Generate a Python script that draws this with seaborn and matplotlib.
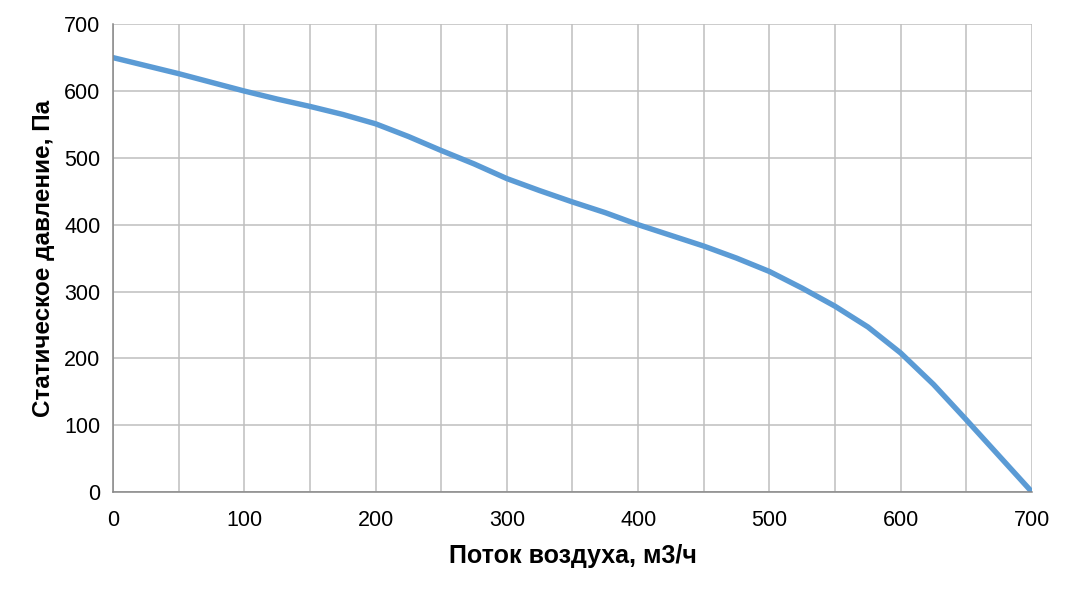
import matplotlib
matplotlib.use("Agg")
import matplotlib.pyplot as plt
import seaborn as sns
import pandas as pd
from matplotlib.ticker import MultipleLocator

# Данные: характеристика вентилятора
flow = [0, 25, 50, 75, 100, 125, 150, 175, 200, 225, 250, 275, 300, 325, 350,
        375, 400, 425, 450, 475, 500, 525, 550, 575, 600, 625, 650, 675, 700]
pressure = [650, 638, 626, 613, 600, 588, 577, 565, 551, 532, 511, 491, 469, 451, 434,
            418, 400, 384, 368, 350, 330, 305, 278, 247, 208, 161, 108, 54, 0]

df = pd.DataFrame({"flow": flow, "pressure": pressure})

sns.set_theme(style="whitegrid")
plt.rcParams["font.family"] = ["Liberation Sans", "DejaVu Sans"]

fig = plt.figure(figsize=(10.73, 5.90), dpi=100)
ax = fig.add_axes([0.1053, 0.166, 0.8565, 0.793])

sns.lineplot(data=df, x="flow", y="pressure", color="#5B9BD5", linewidth=3.9, ax=ax,
             solid_capstyle="round", solid_joinstyle="round")

ax.set_xlim(0, 700)
ax.set_ylim(0, 700)
ax.xaxis.set_major_locator(MultipleLocator(100))
ax.xaxis.set_minor_locator(MultipleLocator(50))
ax.yaxis.set_major_locator(MultipleLocator(100))

grid_color = "#BFBFBF"
ax.grid(True, which="both", axis="x", color=grid_color, linewidth=1.1)
ax.grid(True, which="major", axis="y", color=grid_color, linewidth=1.1)
ax.set_axisbelow(True)

for side in ["top", "right"]:
    ax.spines[side].set_visible(False)
for side in ["left", "bottom"]:
    ax.spines[side].set_color("#868686")
    ax.spines[side].set_linewidth(1.1)

ax.tick_params(axis="both", which="both", direction="out", length=6, width=1.0,
               color="#868686", labelsize=15.5, labelcolor="black")
ax.tick_params(axis="x", which="minor", labelbottom=False)
ax.tick_params(axis="x", pad=7)
ax.tick_params(axis="y", pad=3)

ax.set_xlabel("Поток воздуха, м3/ч", fontsize=18, fontweight="bold", color="black", labelpad=9)
ax.set_ylabel("Статическое давление, Па", fontsize=17.5, fontweight="bold", color="black", labelpad=7)

fig.savefig("out.png", dpi=100, facecolor="white")
